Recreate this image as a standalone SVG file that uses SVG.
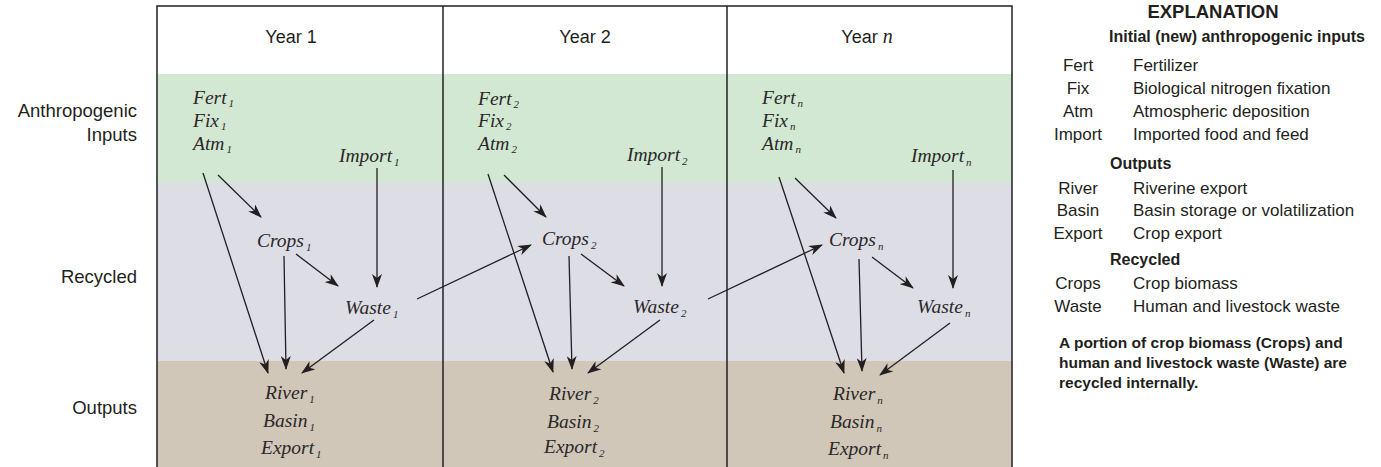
<svg xmlns="http://www.w3.org/2000/svg" width="1381" height="467" viewBox="0 0 1381 467">
<style>
.sans{font-family:"Liberation Sans",Arial,sans-serif;fill:#231f20}
.hdr{font-size:18px}
.row{font-size:18.5px;text-anchor:end}
.it{font-family:"Liberation Serif","Times New Roman",serif;font-style:italic;font-size:19.5px;fill:#2b2829}
.sub{font-size:11px}
.ex{font-size:17px}
.exb{font-size:16px;font-weight:bold}
.ab{text-anchor:middle}
.par{font-size:15.5px;font-weight:bold}
.ln{stroke:#231f20;stroke-width:1.3;fill:none;marker-end:url(#ah)}
</style>
<defs>
<marker id="ah" viewBox="0 0 14 10" refX="13" refY="5" markerWidth="14" markerHeight="10" markerUnits="userSpaceOnUse" orient="auto">
<path d="M0,0 L14,5 L0,10 L4,5 z" fill="#231f20"/>
</marker>
</defs>
<rect x="0" y="0" width="1381" height="467" fill="#ffffff"/>
<g id="bands">
<rect x="157" y="74" width="855" height="109" fill="#d2e8d3"/>
<rect x="157" y="183" width="855" height="178" fill="#dddde6"/>
<rect x="157" y="361" width="855" height="106" fill="#d0c7b8"/>
</g>
<g id="frame" fill="none" stroke="#231f20" stroke-width="1.5">
<rect x="157" y="6" width="855" height="470"/>
<line x1="443" y1="6" x2="443" y2="467"/>
<line x1="727" y1="6" x2="727" y2="467"/>
</g>
<g id="headers" class="sans hdr" text-anchor="middle">
<text x="291" y="43">Year 1</text>
<text x="585" y="43">Year 2</text>
<text x="867" y="43">Year <tspan font-family="Liberation Serif,serif" font-style="italic" font-size="20">n</tspan></text>
</g>
<g id="row-labels" class="sans row">
<text x="137" y="117">Anthropogenic</text>
<text x="137" y="141">Inputs</text>
<text x="137" y="283">Recycled</text>
<text x="137" y="414">Outputs</text>
</g>
<g id="connectors">
<line class="ln" x1="203" y1="173" x2="268" y2="373"/>
<line class="ln" x1="218" y1="175" x2="261" y2="217"/>
<line class="ln" x1="377" y1="168" x2="377" y2="287"/>
<line class="ln" x1="284" y1="256" x2="286" y2="369"/>
<line class="ln" x1="296" y1="254" x2="338" y2="286"/>
<line class="ln" x1="374" y1="320" x2="302" y2="373"/>
<line class="ln" x1="417" y1="299" x2="531" y2="245"/>
<line class="ln" x1="488" y1="174" x2="553" y2="372"/>
<line class="ln" x1="504" y1="175" x2="546" y2="217"/>
<line class="ln" x1="662" y1="167" x2="662" y2="286"/>
<line class="ln" x1="569" y1="256" x2="572" y2="369"/>
<line class="ln" x1="581" y1="254" x2="624" y2="286"/>
<line class="ln" x1="660" y1="320" x2="588" y2="373"/>
<line class="ln" x1="708" y1="299" x2="822" y2="245"/>
<line class="ln" x1="779" y1="177" x2="844" y2="373"/>
<line class="ln" x1="795" y1="178" x2="836" y2="218"/>
<line class="ln" x1="953" y1="170" x2="953" y2="288"/>
<line class="ln" x1="859" y1="259" x2="862" y2="371"/>
<line class="ln" x1="872" y1="257" x2="913" y2="288"/>
<line class="ln" x1="950" y1="323" x2="880" y2="375"/>
</g>
<g id="inputs1" class="it">
<text><tspan x="193" y="104">Fert</tspan><tspan class="sub" dx="2" dy="3">1</tspan><tspan x="193" y="127">Fix</tspan><tspan class="sub" dx="2" dy="3">1</tspan><tspan x="193" y="150">Atm</tspan><tspan class="sub" dx="2" dy="3">1</tspan></text>
</g>
<g id="import1" class="it"><text x="339" y="162">Import<tspan class="sub" dx="2" dy="4">1</tspan></text></g>
<g id="crops1" class="it"><text x="257" y="247">Crops<tspan class="sub" dx="2" dy="4">1</tspan></text></g>
<g id="waste1" class="it"><text x="345" y="314">Waste<tspan class="sub" dx="2" dy="4">1</tspan></text></g>
<g id="outputs1" class="it">
<text><tspan x="265" y="399">River</tspan><tspan class="sub" dx="2" dy="4">1</tspan><tspan x="263" y="427">Basin</tspan><tspan class="sub" dx="2" dy="4">1</tspan><tspan x="261" y="454">Export</tspan><tspan class="sub" dx="2" dy="4">1</tspan></text>
</g>
<g id="inputs2" class="it">
<text><tspan x="478" y="105">Fert</tspan><tspan class="sub" dx="2" dy="3">2</tspan><tspan x="478" y="127">Fix</tspan><tspan class="sub" dx="2" dy="3">2</tspan><tspan x="478" y="150">Atm</tspan><tspan class="sub" dx="2" dy="3">2</tspan></text>
</g>
<g id="import2" class="it"><text x="627" y="161">Import<tspan class="sub" dx="2" dy="4">2</tspan></text></g>
<g id="crops2" class="it"><text x="542" y="245">Crops<tspan class="sub" dx="2" dy="4">2</tspan></text></g>
<g id="waste2" class="it"><text x="633" y="313">Waste<tspan class="sub" dx="2" dy="4">2</tspan></text></g>
<g id="outputs2" class="it">
<text><tspan x="549" y="400">River</tspan><tspan class="sub" dx="2" dy="4">2</tspan><tspan x="547" y="428">Basin</tspan><tspan class="sub" dx="2" dy="4">2</tspan><tspan x="544" y="453">Export</tspan><tspan class="sub" dx="2" dy="4">2</tspan></text>
</g>
<g id="inputsn" class="it">
<text><tspan x="762" y="104">Fert</tspan><tspan class="sub" dx="2" dy="3">n</tspan><tspan x="762" y="127">Fix</tspan><tspan class="sub" dx="2" dy="3">n</tspan><tspan x="762" y="150">Atm</tspan><tspan class="sub" dx="2" dy="3">n</tspan></text>
</g>
<g id="importn" class="it"><text x="911" y="162">Import<tspan class="sub" dx="2" dy="4">n</tspan></text></g>
<g id="cropsn" class="it"><text x="829" y="246">Crops<tspan class="sub" dx="2" dy="4">n</tspan></text></g>
<g id="wasten" class="it"><text x="917" y="313">Waste<tspan class="sub" dx="2" dy="4">n</tspan></text></g>
<g id="outputsn" class="it">
<text><tspan x="833" y="400">River</tspan><tspan class="sub" dx="2" dy="4">n</tspan><tspan x="830" y="428">Basin</tspan><tspan class="sub" dx="2" dy="4">n</tspan><tspan x="828" y="455">Export</tspan><tspan class="sub" dx="2" dy="4">n</tspan></text>
</g>
<g id="explanation" class="sans">
<text x="1213" y="18" text-anchor="middle" font-size="18.5" font-weight="bold">EXPLANATION</text>
<text x="1109" y="42" class="exb">Initial (new) anthropogenic inputs</text>
<g class="ex">
<text x="1078" y="71" class="ab">Fert</text><text x="1133" y="71">Fertilizer</text>
<text x="1078" y="94" class="ab">Fix</text><text x="1133" y="94">Biological nitrogen fixation</text>
<text x="1078" y="117" class="ab">Atm</text><text x="1133" y="117">Atmospheric deposition</text>
<text x="1078" y="140" class="ab">Import</text><text x="1133" y="140">Imported food and feed</text>
</g>
<text x="1110" y="169" class="exb">Outputs</text>
<g class="ex">
<text x="1078" y="194" class="ab">River</text><text x="1133" y="194">Riverine export</text>
<text x="1078" y="216" class="ab">Basin</text><text x="1133" y="216">Basin storage or volatilization</text>
<text x="1078" y="239" class="ab">Export</text><text x="1133" y="239">Crop export</text>
</g>
<text x="1110" y="265" class="exb">Recycled</text>
<g class="ex">
<text x="1078" y="289" class="ab">Crops</text><text x="1133" y="289">Crop biomass</text>
<text x="1078" y="312" class="ab">Waste</text><text x="1133" y="312">Human and livestock waste</text>
</g>
<g class="par">
<text x="1059" y="348">A portion of crop biomass (Crops) and</text>
<text x="1059" y="368">human and livestock waste (Waste) are</text>
<text x="1059" y="388">recycled internally.</text>
</g>
</g>
</svg>
